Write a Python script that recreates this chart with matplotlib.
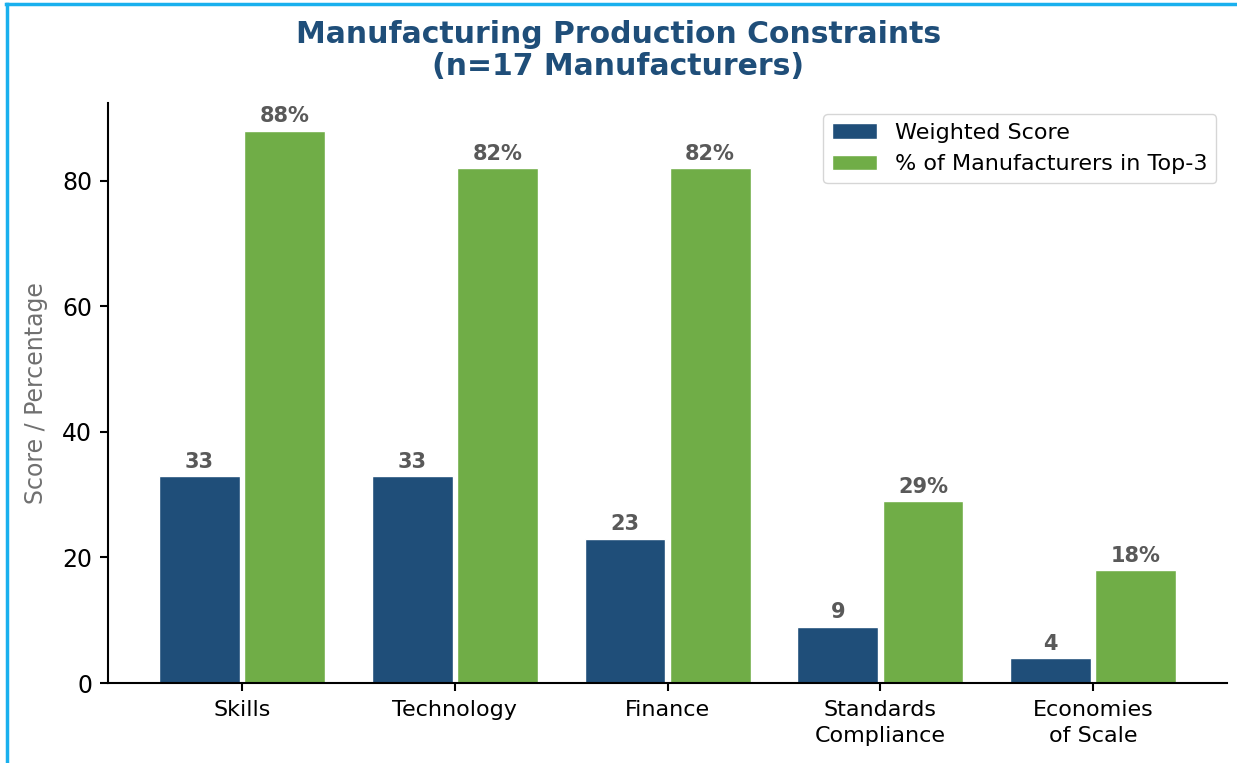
import matplotlib
matplotlib.use("Agg")
import matplotlib.pyplot as plt
import numpy as np
from matplotlib.lines import Line2D

categories = ["Skills", "Technology", "Finance", "Standards\nCompliance", "Economies\nof Scale"]
weighted_score = [33, 33, 23, 9, 4]
pct_top3 = [88, 82, 82, 29, 18]

blue = "#1f4e79"
green = "#70ad47"
label_grey = "#595959"

fig = plt.figure(figsize=(12.37, 7.63), dpi=100)
ax = fig.add_axes([0.0873, 0.1048, 0.9047, 0.7602])

x = np.arange(len(categories))
width = 0.38
b1 = ax.bar(x - 0.2, weighted_score, width, color=blue, edgecolor="white", linewidth=1, label="Weighted Score")
b2 = ax.bar(x + 0.2, pct_top3, width, color=green, edgecolor="white", linewidth=1, label="% of Manufacturers in Top-3")

for rect, v in zip(b1, weighted_score):
    ax.annotate(f"{v}", (rect.get_x() + rect.get_width() / 2, v), xytext=(0, 3),
                textcoords="offset points", ha="center", va="bottom",
                fontsize=15, fontweight="bold", color=label_grey)
for rect, v in zip(b2, pct_top3):
    ax.annotate(f"{v}%", (rect.get_x() + rect.get_width() / 2, v), xytext=(0, 3),
                textcoords="offset points", ha="center", va="bottom",
                fontsize=15, fontweight="bold", color=label_grey)

ax.set_xticks(x, categories, fontsize=16)
for lbl in ax.get_xticklabels():
    lbl.set_linespacing(1.35)
ax.tick_params(axis="y", labelsize=17)
ax.tick_params(width=1.5, length=5.5, pad=6)
ax.tick_params(axis="x", pad=7)
ax.set_ylim(0, 92.4)
ax.set_ylabel("Score / Percentage", fontsize=17, color="#707070", labelpad=10)
ax.spines[["top", "right"]].set_visible(False)
ax.spines[["left", "bottom"]].set_linewidth(1.5)

ax.legend(loc="upper right", fontsize=16, frameon=True, edgecolor="#cccccc",
          borderpad=0.4, handlelength=2.0, bbox_to_anchor=(1.0, 1.0))

fig.suptitle("Manufacturing Production Constraints\n(n=17 Manufacturers)", y=0.974,
             fontsize=21.5, fontweight="bold", color=blue, linespacing=1.15)

# thin frame along the top and left edges
fig.add_artist(Line2D([0.005, 1.0], [0.995, 0.995], color="#1ab0ee", lw=2.5, transform=fig.transFigure))
fig.add_artist(Line2D([0.0055, 0.0055], [0.0, 0.995], color="#1ab0ee", lw=2.5, transform=fig.transFigure))

fig.savefig("out.png", dpi=100)
